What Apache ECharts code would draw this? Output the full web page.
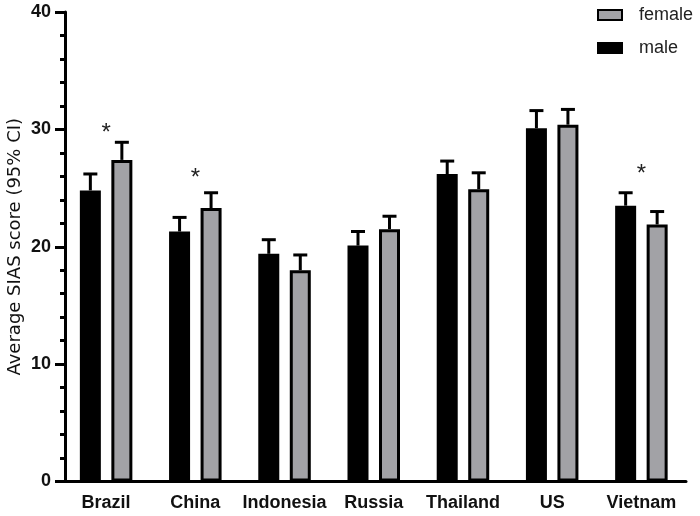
<!DOCTYPE html>
<html>
<head>
<meta charset="utf-8">
<script src="https://cdn.jsdelivr.net/npm/echarts@6/dist/echarts.min.js"></script>
<style>
html, body { margin: 0; padding: 0; background: #fff; }
#main { width: 700px; height: 516px; }
</style>
</head>
<body>
<div id="main"></div>
<script>
// data
var countries = ['Brazil', 'China', 'Indonesia', 'Russia', 'Thailand', 'US', 'Vietnam'];
var maleMean = [24.8, 21.3, 19.4, 20.1, 26.2, 30.1, 23.5];
var maleUpper = [26.2, 22.5, 20.6, 21.3, 27.3, 31.6, 24.6];
var femaleMean = [27.4, 23.3, 18.0, 21.5, 24.9, 30.4, 21.9];
var femaleUpper = [28.9, 24.6, 19.3, 22.6, 26.3, 31.7, 23.0];
// significance stars: category, height of the star
var starCats = ['Brazil', 'China', 'Vietnam'];
var starY = [29.7, 25.8, 26.2];

var BAR_W = 21;
var BAR_GAP = 0.5;
var half = BAR_W * (1 + BAR_GAP) / 2;  // distance from category centre to bar centre

// upper half of the CI with a cap
function errorSeries(upper, mean, side) {
  return {
    type: 'custom',
    silent: true,
    z: 3,
    encode: { x: 0, y: 1 },
    data: countries.map(function (c, i) { return [i, upper[i], mean[i]]; }),
    renderItem: function (params, api) {
      var i = api.value(0);
      var top = api.coord([i, api.value(1)]);
      var base = api.coord([i, api.value(2)]);
      var x = top[0] + side * half;
      return {
        type: 'group',
        children: [
          { type: 'line', shape: { x1: x, y1: base[1], x2: x, y2: top[1] },
            style: { stroke: '#000', lineWidth: 3 } },
          { type: 'line', shape: { x1: x - 7, y1: top[1], x2: x + 7, y2: top[1] },
            style: { stroke: '#000', lineWidth: 3 } }
        ]
      };
    }
  };
}

var myChart = echarts.init(document.getElementById('main'));

var option = {
  backgroundColor: '#fff',
  animation: false,
  grid: { left: 61.5, right: 14, top: 12, bottom: 34.5, outerBoundsMode: 'none' },
  legend: {
    data: ['female', 'male'],
    orient: 'vertical',
    left: 592,
    top: 1,
    icon: 'rect',
    itemWidth: 24,
    itemHeight: 10,
    itemGap: 15,
    selectedMode: false,
    textStyle: { fontSize: 18, color: '#222', fontFamily: 'Liberation Sans, Arial', padding: [0, 0, 0, 12] }
  },
  xAxis: {
    type: 'category',
    data: countries,
    axisLine: { lineStyle: { color: '#000', width: 3 } },
    axisTick: { alignWithLabel: true, length: 8, lineStyle: { color: '#000', width: 3 } },
    axisLabel: { interval: 0, margin: 13, fontSize: 18, fontWeight: 'bold', color: '#111', fontFamily: 'Liberation Sans, Arial' }
  },
  yAxis: {
    type: 'value',
    min: 0,
    max: 40,
    interval: 10,
    offset: -3.5,
    name: 'Average SIAS score (95% CI)',
    nameLocation: 'middle',
    nameGap: 41,
    nameMoveOverlap: false,
    nameTextStyle: { fontSize: 18, color: '#111', fontFamily: 'DejaVu Sans' },
    axisLine: { show: true, lineStyle: { color: '#000', width: 3 } },
    axisTick: { show: true, length: 10, lineStyle: { color: '#000', width: 3 } },
    minorTick: { show: true, splitNumber: 5, length: 5, lineStyle: { color: '#000', width: 3 } },
    splitLine: { show: false },
    axisLabel: { margin: 14, fontSize: 18, fontWeight: 'bold', color: '#111', fontFamily: 'Liberation Sans, Arial' }
  },
  series: [
    {
      name: 'male',
      type: 'bar',
      barWidth: BAR_W,
      barGap: (BAR_GAP * 100) + '%',
      data: maleMean,
      itemStyle: { color: '#000', borderColor: '#000', borderWidth: 3 }
    },
    {
      name: 'female',
      type: 'bar',
      barWidth: BAR_W,
      data: femaleMean,
      itemStyle: { color: '#a2a2a6', borderColor: '#000', borderWidth: 3 }
    },
    errorSeries(maleUpper, maleMean, -1),
    errorSeries(femaleUpper, femaleMean, 1),
    {
      type: 'custom',
      silent: true,
      encode: { x: 0, y: 1 },
      data: starCats.map(function (c, i) { return [c, starY[i]]; }),
      renderItem: function (params, api) {
        var p = api.coord([api.value(0), api.value(1)]);
        return {
          type: 'text',
          x: p[0],
          y: p[1],
          style: { text: '*', fontSize: 24, fill: '#222', fontFamily: 'Liberation Sans, Arial', align: 'center', verticalAlign: 'middle' }
        };
      }
    }
  ]
};

myChart.setOption(option);
</script>
</body>
</html>
